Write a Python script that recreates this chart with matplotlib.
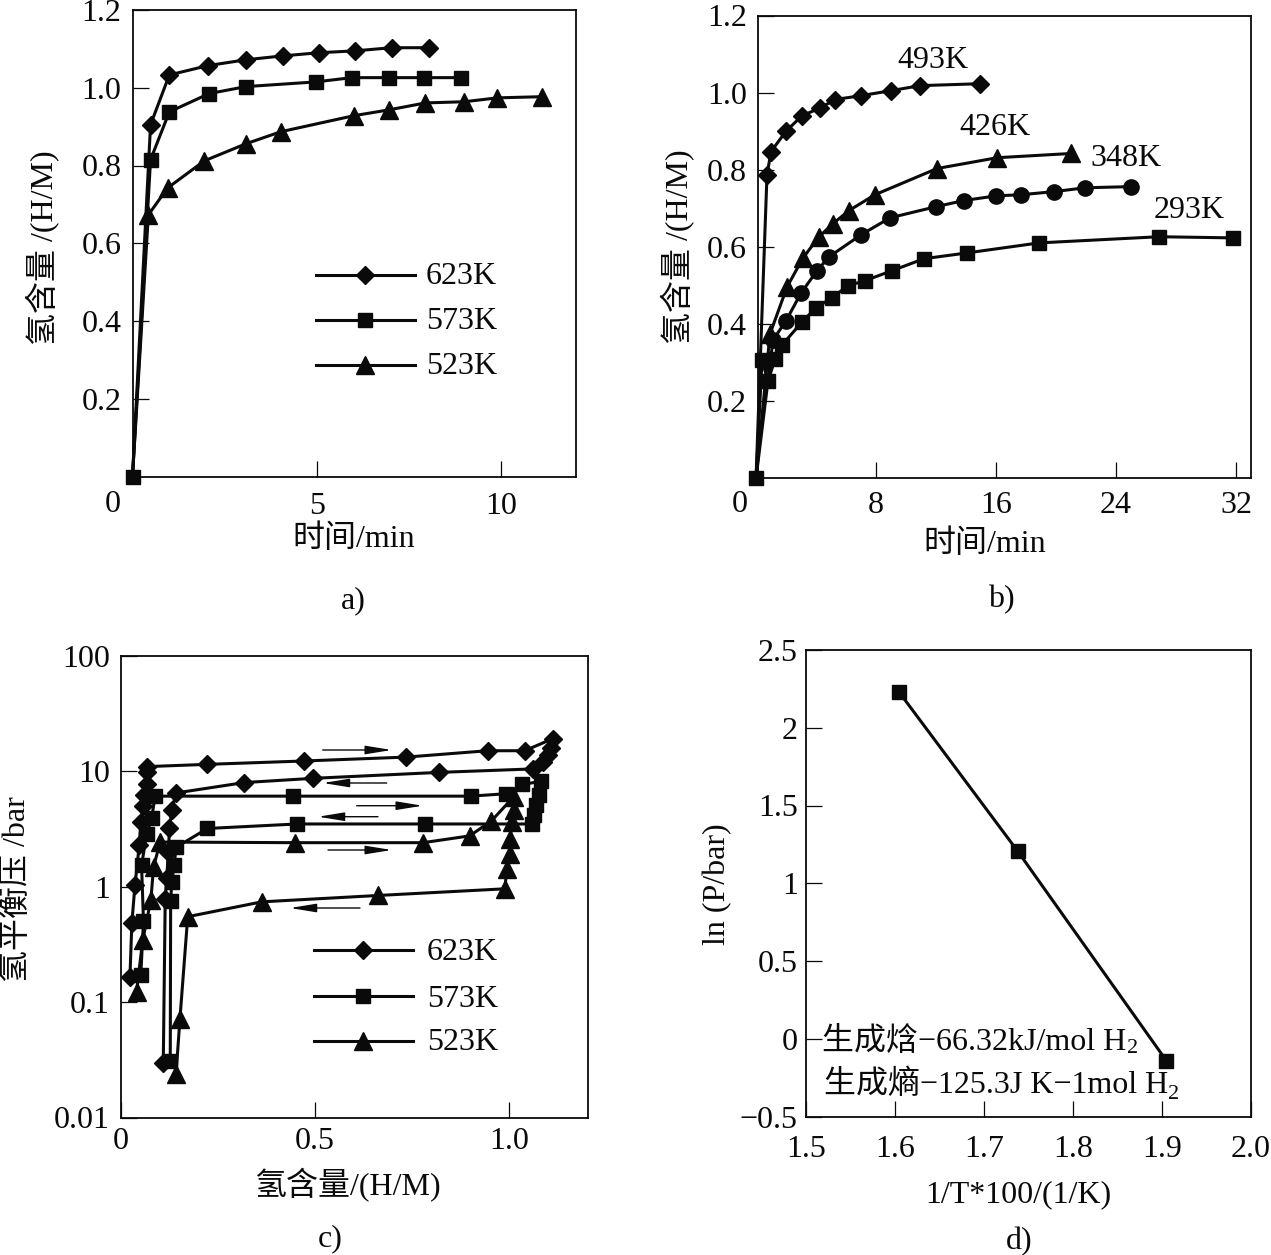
import matplotlib
matplotlib.use("Agg")
import matplotlib.pyplot as plt
from matplotlib.lines import Line2D

plt.rcParams['font.family'] = ['Liberation Serif', 'Noto Sans CJK SC', 'DejaVu Sans']
plt.rcParams['axes.unicode_minus'] = True

W, H = 1271, 1255
TICK_FS = 23
LAB_FS = 23
INK = '#0a0a0a'

# Panel a: hydrogen content vs time
a_t_623 = [0, 0.49, 1.0, 2.05, 3.08, 4.08, 5.05, 6.05, 7.03, 8.05]
a_h_623 = [0, 0.905, 1.033, 1.057, 1.072, 1.082, 1.09, 1.095, 1.103, 1.103]
a_t_573 = [0, 0.49, 1.0, 2.08, 3.08, 4.97, 5.95, 6.95, 7.92, 8.92]
a_h_573 = [0, 0.815, 0.938, 0.985, 1.003, 1.015, 1.026, 1.026, 1.026, 1.026]
a_t_523 = [0, 0.43, 0.95, 1.95, 3.08, 4.03, 6.0, 6.95, 7.95, 9.0, 9.9, 11.1]
a_h_523 = [0, 0.673, 0.742, 0.812, 0.856, 0.887, 0.928, 0.943, 0.961, 0.964, 0.974, 0.977]

# Panel b: hydrogen content vs time
b_t_493 = [0, 0.73, 1.0, 2.0, 3.07, 4.27, 5.27, 7.0, 9.0, 10.93, 14.93]
b_h_493 = [0, 0.787, 0.847, 0.90, 0.94, 0.96, 0.982, 0.992, 1.005, 1.018, 1.023]
b_t_426 = [0, 0.93, 2.07, 3.13, 4.2, 5.13, 6.2, 7.93, 12.07, 16.07, 21.0]
b_h_426 = [0, 0.374, 0.496, 0.571, 0.626, 0.66, 0.694, 0.735, 0.803, 0.831, 0.842]
b_t_348 = [0, 1.13, 2.0, 3.0, 4.07, 4.87, 7.0, 8.93, 12.0, 13.87, 16.0, 17.67, 19.87, 21.93, 25.0]
b_h_348 = [0, 0.358, 0.408, 0.48, 0.538, 0.574, 0.631, 0.675, 0.704, 0.72, 0.732, 0.735, 0.743, 0.753, 0.756]
b_t_293 = [0, 0.4, 0.8, 1.27, 1.73, 3.07, 4.0, 5.07, 6.13, 7.27, 9.07, 11.2, 14.07, 18.87, 26.87, 31.8]
b_h_293 = [0, 0.305, 0.252, 0.309, 0.345, 0.405, 0.442, 0.468, 0.499, 0.512, 0.538, 0.569, 0.584, 0.61, 0.626, 0.623]

# Panel c: pressure-composition isotherms
c_x_623 = [0.023, 0.028, 0.036, 0.047, 0.051, 0.058, 0.059, 0.066, 0.066, 0.068, 0.221, 0.471, 0.736, 0.945, 1.041,
           1.113, 1.108, 1.10, 1.087, 1.061, 0.82, 0.494, 0.318, 0.142, 0.131, 0.125, 0.122, 0.118, 0.114, 0.109]
c_p_623 = [0.164, 0.486, 1.03, 2.29, 3.64, 4.98, 6.2, 7.8, 9.9, 11.0, 11.5, 12.3, 13.3, 15.1, 15.1,
           19.2, 16.0, 13.8, 12.0, 10.5, 9.8, 8.7, 8.0, 6.5, 4.66, 3.2, 2.0, 1.2, 0.79, 0.0299]
c_x_573 = [0.051, 0.058, 0.053, 0.066, 0.079, 0.088, 0.443, 0.902, 0.992, 1.035, 1.083, 1.078, 1.07, 1.064, 1.059,
           0.784, 0.454, 0.223, 0.142, 0.137, 0.131, 0.128, 0.127]
c_p_573 = [0.171, 0.502, 1.53, 2.85, 3.95, 6.1, 6.1, 6.1, 6.4, 7.7, 8.2, 6.3, 5.1, 4.2, 3.5,
           3.5, 3.5, 3.2, 2.2, 1.53, 1.1, 0.76, 0.031]
c_x_523 = [0.04, 0.056, 0.077, 0.084, 0.101, 0.448, 0.779, 0.899, 0.955, 1.012, 1.012, 1.009, 1.003, 1.003, 0.994,
           0.99, 0.662, 0.363, 0.172, 0.152, 0.142]
c_p_523 = [0.123, 0.344, 0.77, 1.49, 2.44, 2.41, 2.41, 2.76, 3.72, 6.0, 4.6, 3.64, 2.58, 1.94, 1.42,
           0.96, 0.84, 0.74, 0.55, 0.072, 0.024]

# Panel d: van't Hoff plot
d_x = [1.6045, 1.738, 1.905]
d_y = [2.23, 1.205, -0.142]

a_labels = ['623K', '573K', '523K']
b_labels = ['493K', '426K', '348K', '293K']

fig = plt.figure(figsize=(W / 100, H / 100), dpi=100, facecolor='white')


def fx(x):
    return x / W


def fy(y):
    return 1 - y / H


def make_axes(l, t, r, b):
    ax = fig.add_axes([fx(l), fy(b), (r - l) / W, (b - t) / H])
    for s in ax.spines.values():
        s.set_linewidth(1.3)
        s.set_color(INK)
    return ax


def style_ticks(ax, xpad, ypad):
    ax.tick_params(axis='x', which='major', direction='in', length=11.5, width=0.9, pad=xpad,
                   labelsize=TICK_FS, colors=INK)
    ax.tick_params(axis='y', which='major', direction='in', length=11.5, width=0.9, pad=ypad,
                   labelsize=TICK_FS, colors=INK)
    ax.minorticks_off()


def curve(ax, x, y, marker, ms, skip_first=False):
    ax.plot(x, y, color=INK, lw=2.2, marker=marker, ms=ms, mfc=INK, mec=INK, clip_on=False, zorder=3,
            markevery=slice(1, None) if skip_first else None)


def ptext(x, y, s, fs=LAB_FS, **kw):
    kw.setdefault('ha', 'center')
    kw.setdefault('va', 'center')
    fig.text(fx(x), fy(y + 1.5), s, fontsize=fs, color=INK, **kw)


MS_D, MS_S, MS_T, MS_C = 9.0, 10.5, 13.0, 11.0


def legend(x0, x1, xm, ys):
    for yy, mk, ms in zip(ys, ['D', 's', '^'], [MS_D, MS_S, MS_T]):
        fig.add_artist(Line2D([fx(x0), fx(x1)], [fy(yy), fy(yy)], color=INK, lw=2.2))
        fig.add_artist(Line2D([fx(xm)], [fy(yy)], color=INK, marker=mk, ms=ms, mfc=INK, mec=INK, ls='none'))


# ---- a
ax = make_axes(132.5, 10, 575.5, 476.5)
curve(ax, a_t_623, a_h_623, 'D', MS_D, True)
curve(ax, a_t_523, a_h_523, '^', MS_T, True)
curve(ax, a_t_573, a_h_573, 's', MS_S)
ax.set_xlim(0, 12.02)
ax.set_ylim(0, 1.2)
ax.set_xticks([5, 10])
ax.set_xticklabels(['5', '10'])
ax.set_yticks([0.2, 0.4, 0.6, 0.8, 1.0, 1.2])
ax.set_yticklabels(['0.2', '0.4', '0.6', '0.8', '1.0', '1.2'])
style_ticks(ax, 11, 8)
ptext(113, 503, '0', TICK_FS)
ptext(354, 538, '时间/min')
ptext(353, 599, 'a)')
ptext(43, 246, '氢含量 /(H/M)', rotation=90)
legend(316, 415, 365, [275, 320, 365])
for yy, name in zip([275, 320, 365], a_labels):
    ptext(426, yy, name, ha='left')

# ---- b
ax = make_axes(758, 15.5, 1251, 478)
curve(ax, b_t_493, b_h_493, 'D', MS_D, True)
curve(ax, b_t_426, b_h_426, '^', MS_T, True)
curve(ax, b_t_348, b_h_348, 'o', MS_C, True)
curve(ax, b_t_293, b_h_293, 's', MS_S)
ax.set_xlim(0.13, 33)
ax.set_ylim(0, 1.2)
ax.set_xticks([8, 16, 24, 32])
ax.set_xticklabels(['8', '16', '24', '32'])
ax.set_yticks([0.2, 0.4, 0.6, 0.8, 1.0, 1.2])
ax.set_yticklabels(['0.2', '0.4', '0.6', '0.8', '1.0', '1.2'])
style_ticks(ax, 9, 8)
ptext(740, 503, '0', TICK_FS)
ptext(985, 543, '时间/min')
ptext(1001, 598, 'b)')
ptext(678, 245, '氢含量 /(H/M)', rotation=90)
for (xx, yy), name in zip([(933, 59), (995, 126), (1126, 157), (1189, 209)], b_labels):
    ptext(xx, yy, name)

# ---- c
ax = make_axes(121, 656, 588, 1117.5)
curve(ax, c_x_623, c_p_623, 'D', MS_D)
curve(ax, c_x_573, c_p_573, 's', MS_S)
curve(ax, c_x_523, c_p_523, '^', MS_T)
ax.set_yscale('log')
ax.set_xlim(0, 1.204)
ax.set_ylim(0.01, 100)
ax.set_xticks([0, 0.5, 1.0])
ax.set_xticklabels(['0', '0.5', '1.0'])
ax.set_yticks([0.01, 0.1, 1, 10, 100])
ax.set_yticklabels(['0.01', '0.1', '1', '10', '100'])
style_ticks(ax, 7, 8)
ptext(347, 1184, '氢含量/(H/M)')
ptext(330, 1237, 'c)')
ptext(17, 888, '氢平衡压 /bar', rotation=90)
legend(314, 413, 363, [950, 996, 1041])
for yy, name in zip([951, 998, 1041], a_labels):
    ptext(427, yy, name, ha='left')
arrows = [((322.7, 750), (391.7, 750)), ((386.7, 783), (323, 783)), ((356.7, 805.7), (422.7, 805.7)),
          ((378, 816.7), (318, 816.7)), ((328, 850), (391.7, 850)), ((360, 908), (290, 908))]
for (x0, y0), (x1, y1) in arrows:
    ax.annotate('', xy=(fx(x1), fy(y1)), xytext=(fx(x0), fy(y0)), xycoords='figure fraction',
                textcoords='figure fraction',
                arrowprops=dict(arrowstyle='-|>,head_length=0.8,head_width=0.13', lw=1.0, color=INK,
                                mutation_scale=20, shrinkA=0, shrinkB=0))

# ---- d
ax = make_axes(806, 650, 1251, 1116.5)
curve(ax, d_x, d_y, 's', MS_S)
ax.set_xlim(1.5, 2.0)
ax.set_ylim(-0.5, 2.5)
ax.set_xticks([1.5, 1.6, 1.7, 1.8, 1.9, 2.0])
ax.set_xticklabels(['1.5', '1.6', '1.7', '1.8', '1.9', '2.0'])
ax.set_yticks([-0.5, 0, 0.5, 1, 1.5, 2, 2.5])
ax.set_yticklabels(['\u22120.5', '0', '0.5', '1', '1.5', '2', '2.5'])
style_ticks(ax, 13, 6)
ptext(1018, 1193, '1/T*100/(1/K)')
ptext(1019, 1240, 'd)')
ptext(718, 883, 'ln (P/bar)', rotation=90)
ptext(822, 1040, '生成焓\u221266.32kJ/mol H', ha='left')
ptext(1133, 1047, '2', 16)
ptext(824, 1083, '生成熵\u2212125.3J K\u22121mol H', ha='left')
ptext(1174, 1093, '2', 16)

fig.savefig('out.png', dpi=100, facecolor='white')
